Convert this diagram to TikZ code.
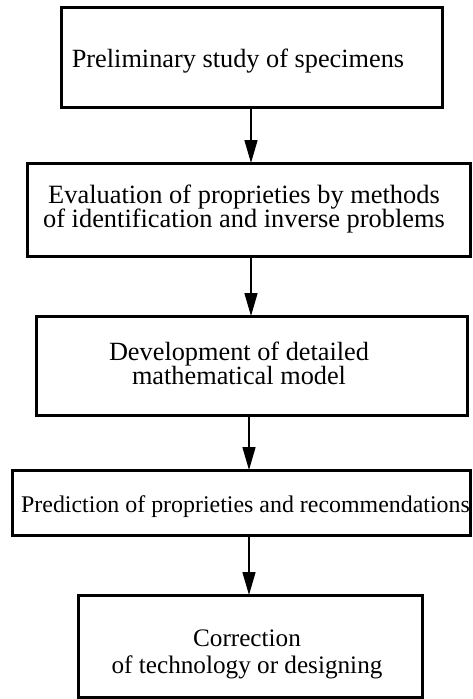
\documentclass[tikz,border=0pt]{standalone}
\usepackage{fontspec}
\setmainfont{Liberation Serif}
\usetikzlibrary{arrows.meta}
\tikzset{
  stepbox/.style={draw=black, line width=3pt, inner sep=0pt, outer sep=0pt, fill=white},
  lbl/.style={anchor=base, inner sep=0pt, align=center},
  arr/.style={line width=1.5pt, -{Triangle[length=23pt,width=13pt]}}
}
\newcommand{\fs}[2]{\fontsize{#1}{#2}\selectfont\lineskiplimit=-100pt\relax}
\begin{document}
\begin{tikzpicture}[x=1pt,y=-1pt]
\useasboundingbox (0,0) rectangle (472,699);
% boxes
\node[stepbox, minimum width=381pt, minimum height=100pt] (b1) at (251.5,57) {};
\node[stepbox, minimum width=443pt, minimum height=93pt] (b2) at (248.5,209.5) {};
\node[stepbox, minimum width=431pt, minimum height=99pt] (b3) at (251.5,365.5) {};
\node[stepbox, minimum width=458pt, minimum height=65pt] (b4) at (241,502.5) {};
\node[stepbox, minimum width=344pt, minimum height=102pt] (b5) at (250,646) {};
% texts (anchor base = baseline of last line)
\node[lbl, font=\fs{26.3}{22}] (t1) at (238,67) {Preliminary study of specimens};
\node[lbl, font=\fs{26.4}{23.5}] (t2) at (244,227) {Evaluation of proprieties by methods\\of identification and inverse problems};
\node[lbl, font=\fs{26.3}{24}] (t3) at (239,384) {Development of detailed\\mathematical model};
\node[lbl, font=\fs{23.9}{22}] (t4) at (245.5,512) {Prediction of proprieties and recommendations};
\node[lbl, font=\fs{25.2}{26.5}] (t5) at (247,673) {Correction\\of technology or designing};
% arrows
\coordinate (x1) at (251,0);
\coordinate (x2) at (249,0);
\draw[arr] (b1.south -| x1) -- (b2.north -| x1);
\draw[arr] (b2.south -| x1) -- (b3.north -| x1);
\draw[arr] (b3.south -| x2) -- (b4.north -| x2);
\draw[arr] (b4.south -| x2) -- (b5.north -| x2);
\end{tikzpicture}
\end{document}
